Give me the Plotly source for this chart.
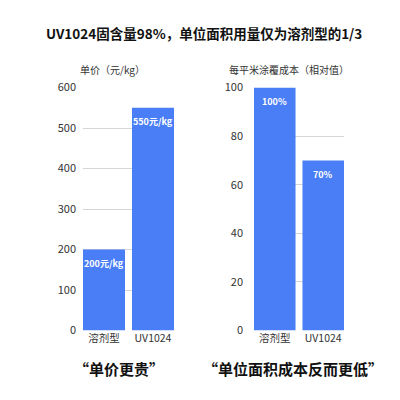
import plotly.graph_objects as go

categories = ["溶剂型", "UV1024"]
price = [200, 550]
price_labels = ["200元/kg", "550元/kg"]
cost = [100, 70]
cost_labels = ["100%", "70%"]
price_ticks = [0, 100, 200, 300, 400, 500, 600]
cost_ticks = [0, 20, 40, 60, 80, 100]

FONT = "Noto Sans CJK SC"
BAR = "#4a7ef6"
W = 400.0

fig = go.Figure()
fig.add_trace(go.Bar(x=categories, y=price, marker=dict(color=BAR, line=dict(width=0)),
                     xaxis="x", yaxis="y", showlegend=False, hoverinfo="skip"))
fig.add_trace(go.Bar(x=categories, y=cost, marker=dict(color=BAR, line=dict(width=0)),
                     xaxis="x2", yaxis="y2", showlegend=False, hoverinfo="skip"))

for xr, yr, vals, labs in (("x", "y", price, price_labels), ("x2", "y2", cost, cost_labels)):
    for c, v, t in zip(categories, vals, labs):
        fig.add_annotation(x=c, y=v, xref=xr, yref=yr, text=t, showarrow=False,
                           yshift=-14, xanchor="center", yanchor="middle",
                           font=dict(family=FONT, size=9, color="white", weight="bold"))

g = 0.143
ydom = [1 - 330.5 / W, 1 - 87.5 / W]
common_x = dict(type="category", range=[-0.5 + g / 2, 1.5 - g / 2], showgrid=False,
                showline=False, ticks="", zeroline=False, automargin=False,
                tickfont=dict(family=FONT, size=10.5, color="#333"))
common_y = dict(showgrid=True, gridcolor="#d6d6d6", gridwidth=1, zeroline=False,
                showline=False, ticks="", automargin=False,
                tickfont=dict(family=FONT, size=11, color="#333"), domain=ydom)
fig.update_layout(
    width=400, height=400, margin=dict(l=0, r=0, t=0, b=0, autoexpand=False),
    paper_bgcolor="white", plot_bgcolor="white", bargap=g,
    xaxis=dict(domain=[83 / W, 174 / W], anchor="y", **common_x),
    yaxis=dict(anchor="x", range=[0, 600], tickvals=price_ticks, ticklabelstandoff=6, **common_y),
    xaxis2=dict(domain=[254 / W, 344 / W], anchor="y2", **common_x),
    yaxis2=dict(anchor="x2", range=[0, 100], tickvals=cost_ticks, ticklabelstandoff=10, **common_y),
)

def ann(text, x, y, size, bold=False, color="#222"):
    fig.add_annotation(text=text, x=x / W, y=1 - y / W, xref="paper", yref="paper",
                       showarrow=False, xanchor="center", yanchor="middle",
                       font=dict(family=FONT, size=size, color=color,
                                 weight="bold" if bold else "normal"))

ann("UV1024固含量98%，单位面积用量仅为溶剂型的1/3", 204, 33, 13.5, True, "#111")
ann("单价（元/kg）", 113, 69, 10, False, "#333")
ann("每平米涂覆成本（相对值）", 289, 69, 10, False, "#333")
ann("“单价更贵”", 119, 368, 15, True, "#111")
ann("“单位面积成本反而更低”", 293, 368, 15, True, "#111")

fig.write_html("out.html")
